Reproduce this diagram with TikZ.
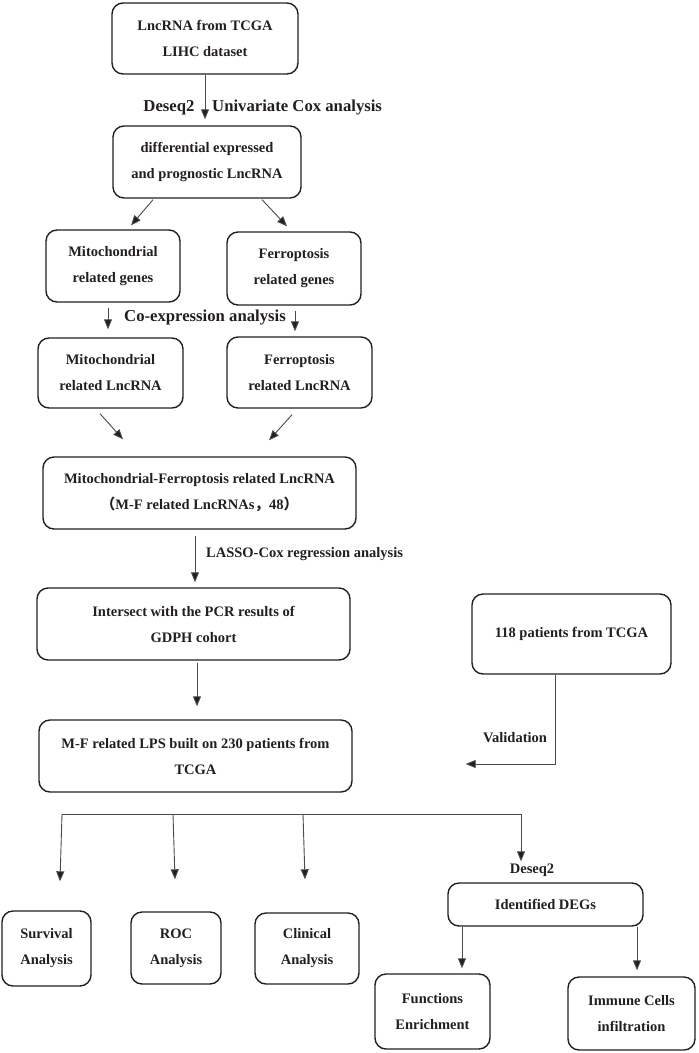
\documentclass[tikz,border=0pt]{standalone}
\usepackage{fontspec}
\setmainfont{Liberation Serif}
\newfontfamily\cjk{Noto Sans CJK SC}
\usetikzlibrary{arrows.meta}
\definecolor{ink}{HTML}{231F20}
\definecolor{wire}{HTML}{4A4A4A}
\begin{document}
\begin{tikzpicture}[x=1pt,y=-1pt,
  box/.style={draw=ink, line width=1.4pt, rounded corners=11pt, inner sep=0pt,
    align=center, text=ink, font=\bfseries\fontsize{14.5}{26}\selectfont},
  lbl/.style={inner sep=0pt, text=ink, font=\bfseries\fontsize{14.5}{26}\selectfont},
  biglbl/.style={inner sep=0pt, text=ink, font=\bfseries\fontsize{16.7}{20}\selectfont},
  arr/.style={draw=wire, line width=0.9pt, -{Triangle[length=10pt,width=8pt,fill=ink]}},
  wireline/.style={draw=wire, line width=0.9pt}]
\useasboundingbox (0,0) rectangle (699,1053);

% boxes
\node[box, minimum width=186pt, minimum height=71pt] (b1) at (205,38.5) {LncRNA from TCGA\\LIHC dataset};
\node[box, minimum width=188pt, minimum height=72pt] (b2) at (207,162) {differential expressed\\and prognostic LncRNA};
\node[box, minimum width=134pt, minimum height=72pt] (mg) at (113,266) {Mitochondrial\\related genes};
\node[box, minimum width=134pt, minimum height=73pt] (fg) at (294,268.5) {Ferroptosis\\related genes};
\node[box, minimum width=145pt, minimum height=70pt] (ml) at (110.5,373) {Mitochondrial\\related LncRNA};
\node[box, minimum width=145pt, minimum height=71pt] (fl) at (299.5,372.5) {Ferroptosis\\related LncRNA};
\node[box, minimum width=313pt, minimum height=72pt] (mf) at (199.5,493) {Mitochondrial-Ferroptosis related LncRNA\\{\cjk （}M-F related LncRNAs{\cjk ，}48{\cjk ）}};
\node[box, minimum width=313pt, minimum height=72pt] (is) at (193.5,624) {Intersect with the PCR results of\\GDPH cohort};
\node[box, minimum width=199pt, minimum height=80pt] (pt) at (571.5,634) {118 patients from TCGA};
\node[box, minimum width=313pt, minimum height=72pt] (lps) at (195.5,756) {M-F related LPS built on 230 patients from\\TCGA};
\node[box, minimum width=89pt, minimum height=75pt] (sv) at (46.5,948.5) {Survival\\Analysis};
\node[box, minimum width=90pt, minimum height=72pt] (roc) at (176,948) {ROC\\Analysis};
\node[box, minimum width=104pt, minimum height=71pt] (cl) at (307,948.5) {Clinical\\Analysis};
\node[box, minimum width=195pt, minimum height=43pt] (deg) at (545.5,904.5) {Identified DEGs};
\node[box, minimum width=115pt, minimum height=75pt] (fe) at (432.5,1011.5) {Functions\\Enrichment};
\node[box, minimum width=127pt, minimum height=73pt] (im) at (631.5,1013.5) {Immune Cells\\infiltration};

% labels
\node[biglbl] (l1) at (169,108) {Deseq2};
\node[biglbl, anchor=west] (l2) at (212,108) {Univariate Cox analysis};
\node[biglbl] (l3) at (205,318) {Co-expression analysis};
\node[lbl, anchor=west] (l4) at (206,554) {LASSO-Cox regression analysis};
\node[lbl] (l5) at (515,738) {Validation};
\node[lbl] (l6) at (532,870) {Deseq2};

% connectors
\draw[arr] (b1.south) -- ([yshift=6pt]b1.south |- b2.north);
\draw[arr] ([xshift=-54pt,yshift=-1pt]b2.south) -- ([xshift=18pt,yshift=4pt]mg.north);
\draw[arr] ([xshift=55pt,yshift=-1pt]b2.south) -- ([xshift=-7pt,yshift=5pt]fg.north);
\draw[arr] ([xshift=-5pt,yshift=-5pt]mg.south) -- ([xshift=-2.5pt,yshift=8pt]ml.north);
\draw[arr] ([xshift=1pt,yshift=-5pt]fg.south) -- ([xshift=-4.5pt,yshift=5pt]fl.north);
\draw[arr] ([xshift=-10.5pt,yshift=-5pt]ml.south) -- ([xshift=-76.5pt,yshift=17pt]mf.north);
\draw[arr] ([xshift=-7.5pt,yshift=-6pt]fl.south) -- ([xshift=69.5pt,yshift=16pt]mf.north);
\draw[arr] ([xshift=-4.5pt,yshift=-6pt]mf.south) -- ([xshift=1.5pt,yshift=5pt]is.north);
\draw[arr] ([xshift=3.5pt,yshift=-2pt]is.south) -- ([xshift=1.5pt,yshift=13pt]lps.north);
\draw[arr] ([xshift=-16.5pt]pt.south) |- ([xshift=113pt,yshift=-8pt]lps.east);

\coordinate (busA) at (62,814);
\coordinate (busB) at (173,814);
\coordinate (busC) at (303,814);
\coordinate (busD) at (521,814);
\draw[wireline] (busA) -- (busD);
\draw[arr] (busA) -- ([xshift=13.5pt,yshift=29pt]sv.north);
\draw[arr] (busB) -- ([xshift=-1pt,yshift=32pt]roc.north);
\draw[arr] (busC) -- ([xshift=-2pt,yshift=33pt]cl.north);
\draw[arr] (busD) -- ([xshift=-24.5pt,yshift=21pt]deg.north);
\draw[arr] ([xshift=-83.5pt]deg.south) -- ([xshift=29.5pt,yshift=5pt]fe.north);
\draw[arr] ([xshift=91.5pt]deg.south) -- ([xshift=5.5pt,yshift=6pt]im.north);
\end{tikzpicture}
\end{document}
